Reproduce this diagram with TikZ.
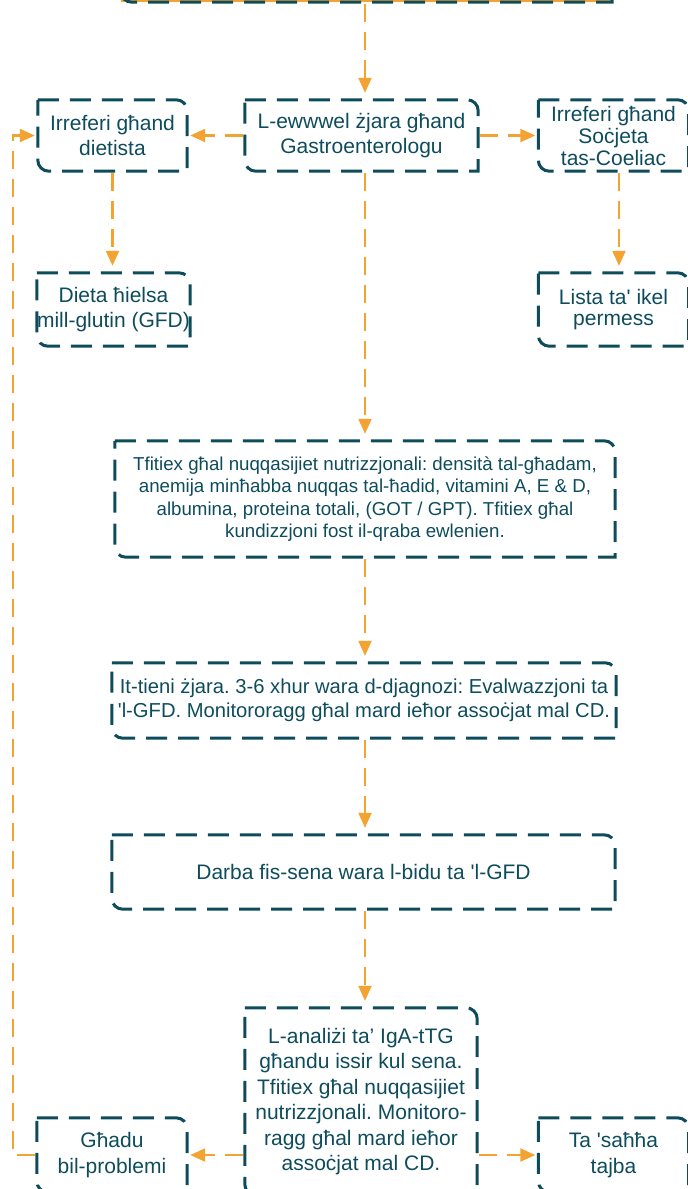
\documentclass[tikz,border=0pt]{standalone}
\usepackage{fontspec}
\setmainfont{Liberation Sans}
\usetikzlibrary{arrows.meta}
\definecolor{boxteal}{RGB}{14,76,92}
\definecolor{flowor}{RGB}{242,163,50}
\newcommand{\boxr}{11pt}
\newcommand{\sq}{\textquotesingle}
\newcommand{\frameit}[1]{\draw[boxline] (#1.north west) -- ([xshift=-\boxr]#1.north east) arc[start angle=90,end angle=0,radius=\boxr] -- (#1.south east) -- ([xshift=\boxr]#1.south west) arc[start angle=270,end angle=180,radius=\boxr] -- cycle;}
\frenchspacing
\begin{document}
\begin{tikzpicture}[x=1pt,y=1pt,
	box/.style={inner sep=0pt,text=boxteal,align=center,font=\fontsize{21}{25.5}\selectfont},
	boxline/.style={draw=boxteal,line width=3pt,dash pattern=on 21pt off 11pt},
	flow/.style={draw=flowor,line width=2.2pt,dash pattern=on 18pt off 10pt,-{Triangle[width=13pt,length=15pt]},shorten >=3pt,shorten <=2pt},
	down/.style={flow,shorten >=7pt}]
	\useasboundingbox (0,0) rectangle (688,-1189);
	\clip (0,0) rectangle (688,-1189);
	\node[box,minimum width=491pt,minimum height=62pt] (start) at (366.5,29) {};
	\node[box,minimum width=149pt,minimum height=71pt] (dietista) at (112.5,-135.5) {Irreferi għand\\dietista};
	\node[box,minimum width=233pt,minimum height=71pt] (gastro) at (361.5,-135.5) {L-ewwwel żjara għand\\Gastroenterologu};
	\node[box,minimum width=150pt,minimum height=71pt,font=\fontsize{21}{22}\selectfont] (socjeta) at (613.5,-135.5) {Irreferi għand\\Soċjeta\\tas-Coeliac};
	\node[box,minimum width=149pt,minimum height=73pt] (dieta) at (113.5,-309.5) {Dieta ħielsa\\mill-glutin (GFD)};
	\node[box,minimum width=150pt,minimum height=73pt,font=\fontsize{21}{21}\selectfont] (lista) at (613.5,-309.5) {Lista ta\sq{} ikel\\permess};
	\node[box,minimum width=500pt,minimum height=116pt,font=\fontsize{18.7}{22.5}\selectfont] (tfitiex) at (365,-499) {Tfitiex għal nuqqasijiet nutrizzjonali: densità tal-għadam,\\anemija minħabba nuqqas tal-ħadid, vitamini A, E \& D,\\albumina, proteina totali, (GOT / GPT). Tfitiex għal\\kundizzjoni fost il-qraba ewlenien.};
	\node[box,minimum width=504pt,minimum height=75pt,font=\fontsize{20.2}{23.5}\selectfont] (tieni) at (364,-700.5) {It-tieni żjara. 3-6 xhur wara d-djagnozi: Evalwazzjoni ta\\\sq{}l-GFD. Monitororagg għal mard ieħor assoċjat mal CD.};
	\node[box,minimum width=503pt,minimum height=74pt] (darba) at (363.5,-872) {Darba fis-sena wara l-bidu ta \sq{}l-GFD};
	\node[box,minimum width=232pt,minimum height=187pt] (analizi) at (361,-1101.5) {L-analiżi ta’ IgA-tTG\\għandu issir kul sena.\\Tfitiex għal nuqqasijiet\\nutrizzjonali. Monitoro-\\ragg għal mard ieħor\\assoċjat mal CD.};
	\node[box,minimum width=150pt,minimum height=74pt] (ghadu) at (112,-1155) {Għadu\\bil-problemi};
	\node[box,minimum width=150pt,minimum height=74pt] (sahha) at (613.5,-1155) {Ta \sq{}saħħa\\tajba};
	\draw[flowor,line width=2pt] ([yshift=1.5pt]start.south west) -- ([yshift=1.5pt]start.south east);
	\foreach \n in {start,dietista,gastro,socjeta,dieta,lista,tfitiex,tieni,darba,analizi,ghadu,sahha}
		\frameit{\n};
	\draw[down] (tfitiex.north |- start.south) -- (tfitiex.north |- gastro.north);
	\draw[flow] (gastro.west) -- (dietista.east);
	\draw[flow] (gastro.east) -- (socjeta.west);
	\draw[down] (dietista.south) -- (dietista.south |- dieta.north);
	\draw[down] ([xshift=5.5pt]socjeta.south) -- ([xshift=5.5pt]socjeta.south |- lista.north);
	\draw[down] (gastro.south -| tfitiex.north) -- (tfitiex.north);
	\draw[down] (tfitiex.south) -- (tfitiex.south |- tieni.north);
	\draw[down] (tfitiex.south |- tieni.south) -- (tfitiex.south |- darba.north);
	\draw[down] (tfitiex.south |- darba.south) -- (tfitiex.south |- analizi.north);
	\draw[flow] (analizi.west |- ghadu.east) -- (ghadu.east);
	\draw[flow] (analizi.east |- sahha.west) -- (sahha.west);
	\draw[flow] (ghadu.west) -- ++(-24,0) |- (dietista.west);
\end{tikzpicture}
\end{document}
